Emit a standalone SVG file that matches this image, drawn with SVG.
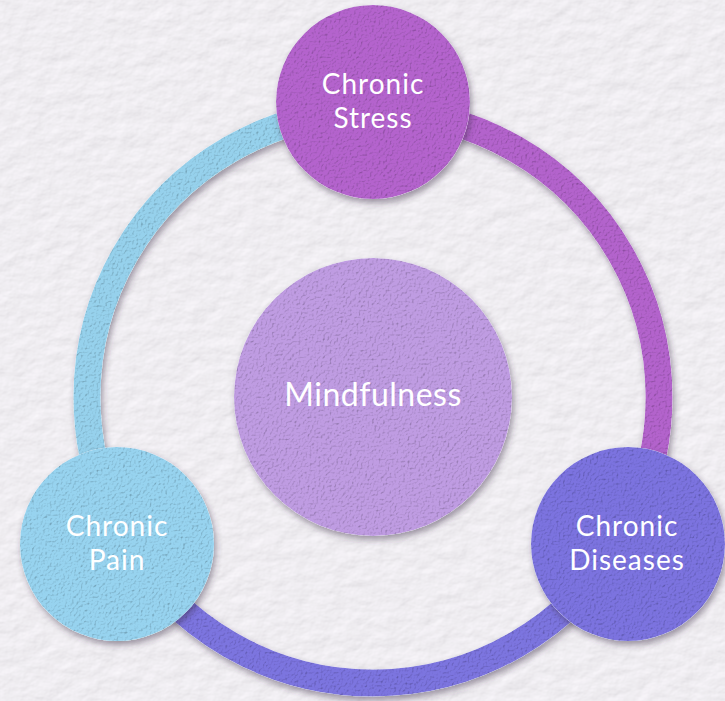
<svg xmlns="http://www.w3.org/2000/svg" width="725" height="701" viewBox="0 0 725 701">
  <defs>
    <style>
      .lbl { font-family: Lato, "Open Sans", "Liberation Sans", sans-serif; font-size: 28px; fill: #ffffff; text-anchor: middle; letter-spacing: 1px; }
      .big { font-size: 32px; letter-spacing: 0.5px; }
      .ring { fill: none; stroke-width: 27; }
    </style>
    <filter id="bgtex" x="0" y="0" width="100%" height="100%">
      <feTurbulence type="fractalNoise" baseFrequency="0.05 0.07" numOctaves="4" seed="7" result="n"/>
      <feDiffuseLighting in="n" surfaceScale="0.9" diffuseConstant="1.08" lighting-color="#f4f2f6" result="l">
        <feDistantLight azimuth="235" elevation="62"/>
      </feDiffuseLighting>
      <feComposite in="l" in2="SourceGraphic" operator="in"/>
    </filter>
    <filter id="tex" x="-10%" y="-10%" width="125%" height="125%">
      <feTurbulence type="fractalNoise" baseFrequency="0.45" numOctaves="2" seed="3" result="n"/>
      <feDiffuseLighting in="n" surfaceScale="1.2" diffuseConstant="1.18" lighting-color="#ffffff" result="l">
        <feDistantLight azimuth="225" elevation="58"/>
      </feDiffuseLighting>
      <feComposite in="l" in2="SourceGraphic" operator="in" result="lt"/>
      <feBlend in="SourceGraphic" in2="lt" mode="multiply" result="t"/>
      <feDropShadow in="t" dx="2" dy="4" stdDeviation="3" flood-color="#3a2d44" flood-opacity="0.45"/>
    </filter>
  </defs>

  <rect x="0" y="0" width="725" height="701" fill="#efedf1"/>
  <rect x="0" y="0" width="725" height="701" fill="#efedf1" filter="url(#bgtex)"/>

  <g id="connectors" filter="url(#tex)">
    <path class="ring" stroke="#96d1ec" d="M 125.3 540 A 286 286 0 0 1 373 111"/>
    <path class="ring" stroke="#b363cc" d="M 373 111 A 286 286 0 0 1 620.7 540"/>
    <path class="ring" stroke="#7c74df" d="M 620.7 540 A 286 286 0 0 1 125.3 540"/>
  </g>

  <g id="mindfulness">
    <circle cx="373" cy="397" r="139" fill="#bf9ce2" filter="url(#tex)"/>
    <text class="lbl big" x="373" y="406">Mindfulness</text>
  </g>

  <g id="chronic-stress">
    <circle cx="373" cy="102" r="97" fill="#b464cd" filter="url(#tex)"/>
    <text class="lbl" x="373" y="94">Chronic</text>
    <text class="lbl" x="373" y="128">Stress</text>
  </g>

  <g id="chronic-pain">
    <circle cx="117" cy="544" r="97" fill="#97d3ef" filter="url(#tex)"/>
    <text class="lbl" x="117" y="536">Chronic</text>
    <text class="lbl" x="117" y="570">Pain</text>
  </g>

  <g id="chronic-diseases">
    <circle cx="628" cy="544" r="97" fill="#7b73df" filter="url(#tex)"/>
    <text class="lbl" x="627" y="536">Chronic</text>
    <text class="lbl" x="627" y="570">Diseases</text>
  </g>
</svg>
